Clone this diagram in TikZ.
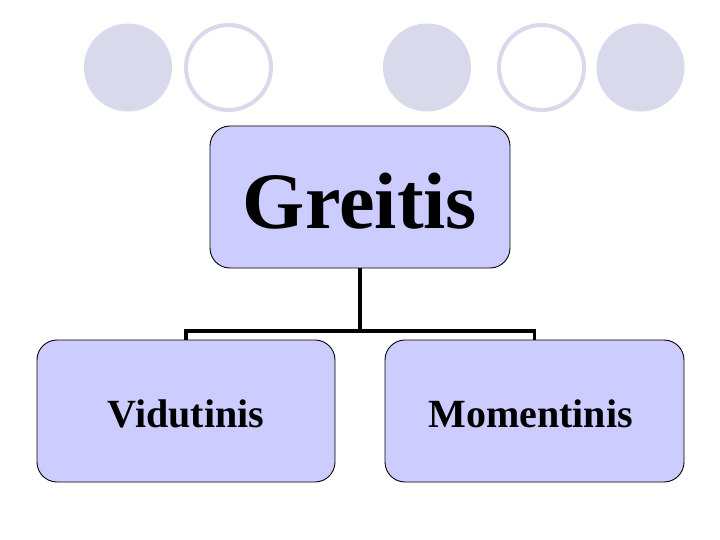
\documentclass[tikz,border=0pt]{standalone}
\usepackage{fontspec}
\setmainfont{Liberation Serif}
\definecolor{boxfill}{RGB}{204,204,255}
\definecolor{dotcol}{RGB}{217,217,236}
\begin{document}
\begin{tikzpicture}[x=1pt,y=-1pt,
  dotfill/.style={circle,fill=dotcol,minimum size=88pt,inner sep=0pt},
  dotring/.style={circle,draw=dotcol,line width=4pt,minimum size=85pt,inner sep=0pt},
  chartbox/.style={draw=black,line width=0.9pt,fill=boxfill,rounded corners=20pt,inner sep=0pt,font=\bfseries},
  link/.style={draw=black,line width=3.2pt}]
\useasboundingbox (0,0) rectangle (720,540);
\fill[white] (0,0) rectangle (720,540);
\node[dotfill] (c1) at (128,67.5) {};
\node[dotring] (c2) at (228.5,67.5) {};
\node[dotfill] (c3) at (427,67.5) {};
\node[dotring] (c4) at (541.5,67.5) {};
\node[dotfill] (c5) at (640.5,67.5) {};
\node[chartbox,minimum width=300pt,minimum height=142pt,text height=64pt,text depth=0pt,font=\bfseries\fontsize{80}{82}\selectfont] (top) at (360,197) {Greitis};
\node[chartbox,minimum width=298pt,minimum height=142pt,text height=32pt,text depth=0pt,font=\bfseries\fontsize{40}{42}\selectfont] (left) at (186,411) {Vidutinis};
\node[chartbox,minimum width=299pt,minimum height=142pt,text height=32pt,text depth=0pt,font=\bfseries\fontsize{40}{42}\selectfont] (right) at (534.5,411) {\hspace*{0pt}Momentinis\hspace*{8pt}};
\coordinate (j) at (360,331);
\draw[link] (top.south) -- (j);
\draw[link] (left.north) |- (j) -| (right.north);
\end{tikzpicture}
\end{document}
